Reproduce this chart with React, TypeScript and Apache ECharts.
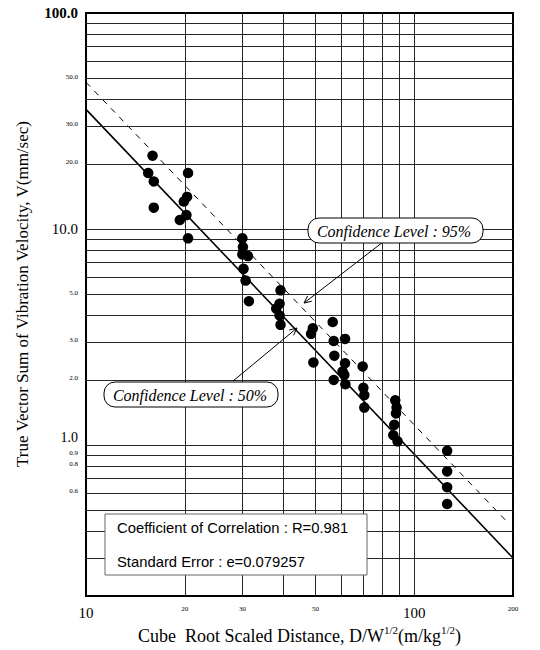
import React, { useEffect, useRef } from "react";
import * as echarts from "echarts";

// Scaled distance D/W^(1/2) (m/kg^(1/2)) and vibration velocity V (mm/sec)
const distances = [
  15.95, 15.47, 16.09, 16.09, 20.46, 20.32, 19.86, 20.23, 19.31, 20.46,
  29.95, 30.07, 29.95, 31.14, 30.2, 30.64, 31.36, 39.15, 38.88, 37.98,
  38.88, 39.15, 49.1, 48.5, 56.45, 56.85, 61.55, 49.3, 57.1, 61.55,
  60.5, 61.25, 56.85, 61.7, 69.65, 70.0, 70.47, 70.47, 87.55, 88.35,
  88.0, 86.95, 86.35, 88.97, 126, 126, 126, 126,
];
const velocities = [
  21.85, 18.16, 16.6, 12.56, 18.16, 14.08, 13.4, 11.6, 11.0, 9.05,
  9.05, 8.25, 7.63, 7.49, 6.54, 5.77, 4.63, 5.2, 4.51, 4.28,
  3.98, 3.6, 3.47, 3.27, 3.71, 3.03, 3.1, 2.41, 2.59, 2.39,
  2.19, 2.11, 2.0, 1.91, 2.31, 1.84, 1.7, 1.49, 1.61, 1.49,
  1.4, 1.24, 1.11, 1.04, 0.94, 0.755, 0.638, 0.533,
];

// Regression lines (50% and 95% confidence)
const line50 = [
  [10, 35.8],
  [200, 0.3],
];
const line95 = [
  [10, 47.8],
  [195, 0.43],
];

// Grid lines and tick labels
const xGridValues = [20, 30, 40, 50, 60, 70, 80, 90, 100];
const yGridValues = [
  0.3, 0.4, 0.5, 0.6, 0.7, 0.8, 0.9, 1, 2, 3, 4, 5, 6, 7, 8, 9, 10, 20, 30, 40,
  50, 60, 70, 80, 90,
];
const xTickLabels = [10, 20, 30, 50, 100, 200];
const xBigLabels = [10, 100];
const yTickLabels = [0.6, 0.8, 0.9, 1, 2, 3, 5, 10, 20, 30, 50, 100];
const yBigLabels = [10, 100];
const yRaisedLabels = [1];

const texts = {
  yTitle: "True Vector Sum of Vibration Velocity, V(mm/sec)",
  conf95: "Confidence Level : 95%",
  conf50: "Confidence Level : 50%",
  corr: "Coefficient of Correlation : R=0.981",
  err: "Standard Error : e=0.079257",
};

const SERIF = '"Liberation Serif", "DejaVu Serif", serif';
const SANS = '"Liberation Sans", Arial, sans-serif';

function arrow(x1: number, y1: number, x2: number, y2: number) {
  const dx = x2 - x1;
  const dy = y2 - y1;
  const len = Math.sqrt(dx * dx + dy * dy);
  const ux = dx / len;
  const uy = dy / len;
  const a = (25 * Math.PI) / 180;
  const L = 8;
  const p1 = [
    x2 - L * (ux * Math.cos(a) - uy * Math.sin(a)),
    y2 - L * (uy * Math.cos(a) + ux * Math.sin(a)),
  ];
  const p2 = [
    x2 - L * (ux * Math.cos(a) + uy * Math.sin(a)),
    y2 - L * (uy * Math.cos(a) - ux * Math.sin(a)),
  ];
  return [
    {
      type: "line",
      z: 100,
      shape: { x1, y1, x2, y2 },
      style: { stroke: "#000", lineWidth: 1 },
    },
    {
      type: "polyline",
      z: 100,
      shape: { points: [p1, [x2, y2], p2] },
      style: { stroke: "#000", lineWidth: 1, fill: null },
    },
  ];
}

const near = (list: number[], r: number) => list.some((b) => Math.abs(b - r) < 1e-6);

export default function App() {
  const ref = useRef<HTMLDivElement>(null);

  useEffect(() => {
    document.body.style.margin = "0";
    if (!ref.current) return;
    const chart = echarts.init(ref.current, undefined, { renderer: "svg" });

    const option: any = {
      animation: false,
      backgroundColor: "#fff",
      grid: {
        left: 86,
        right: 27,
        top: 13,
        bottom: 54,
        show: true,
        borderColor: "#000",
        borderWidth: 2,
        backgroundColor: "transparent",
      },
      xAxis: {
        type: "log",
        logBase: 10,
        min: 10,
        max: 200,
        axisLine: { show: false },
        axisTick: { show: false },
        splitLine: { show: false },
        axisLabel: {
          customValues: xTickLabels,
          margin: 9,
          color: "#000",
          formatter: (v: number) => {
            const r = Math.round(v);
            return near(xBigLabels, r) ? `{b|${r}}` : `{s|${r}}`;
          },
          rich: {
            b: { fontFamily: SERIF, fontSize: 15, color: "#000" },
            s: { fontFamily: SERIF, fontSize: 7, color: "#000", padding: [0, 0, 6, 0] },
          },
        },
        name: "{n|Cube  Root Scaled Distance, D/W}{u|1/2}{n|(m/kg}{u|1/2}{n|)}",
        nameLocation: "middle",
        nameGap: 22,
        nameTextStyle: {
          rich: {
            n: { fontFamily: SERIF, fontSize: 18, color: "#000", lineHeight: 22 },
            u: {
              fontFamily: SERIF,
              fontSize: 11,
              color: "#000",
              verticalAlign: "top",
              lineHeight: 22,
              padding: [0, 0, 8, 0],
            },
          },
        },
      },
      yAxis: {
        type: "log",
        logBase: 10,
        min: 0.2,
        max: 100,
        axisLine: { show: false },
        axisTick: { show: false },
        splitLine: { show: false },
        axisLabel: {
          customValues: yTickLabels,
          margin: 8,
          color: "#000",
          formatter: (v: number) => {
            const r = Math.round(v * 100) / 100;
            const s = r.toFixed(1);
            if (r === 100) return `{h|${s}}`;
            if (near(yBigLabels, r)) return `{b|${s}}`;
            if (near(yRaisedLabels, r)) return `{c|${s}}`;
            return `{s|${s}}`;
          },
          rich: {
            h: { fontFamily: SERIF, fontSize: 15, color: "#000", fontWeight: "bold" },
            b: { fontFamily: SERIF, fontSize: 15, color: "#000" },
            c: { fontFamily: SERIF, fontSize: 14, color: "#000", padding: [0, 0, 16, 0] },
            s: { fontFamily: SERIF, fontSize: 7, color: "#000", padding: [0, 0, 3, 0] },
          },
        },
      },
      series: [
        {
          type: "scatter",
          data: [],
          silent: true,
          markLine: {
            silent: true,
            symbol: ["none", "none"],
            label: { show: false },
            lineStyle: { color: "#262626", width: 1, type: "solid" },
            emphasis: { disabled: true },
            data: [
              ...xGridValues.map((v) => ({ xAxis: v })),
              ...yGridValues.map((v) => ({ yAxis: v })),
            ],
          },
        },
        {
          type: "line",
          data: line95,
          symbol: "none",
          silent: true,
          lineStyle: { color: "#000", width: 1, type: [6, 6] },
        },
        {
          type: "line",
          data: line50,
          symbol: "none",
          silent: true,
          lineStyle: { color: "#000", width: 1.6, type: "solid" },
        },
        {
          type: "scatter",
          data: distances.map((d, i) => [d, velocities[i]]),
          symbol: "circle",
          symbolSize: 10.5,
          itemStyle: { color: "#000", opacity: 1 },
          z: 5,
        },
      ],
      graphic: [
        {
          type: "text",
          z: 100,
          x: 22,
          y: 294,
          rotation: Math.PI / 2,
          style: {
            text: texts.yTitle,
            font: `17px ${SERIF}`,
            fill: "#000",
            align: "center",
            verticalAlign: "middle",
          },
        },
        ...arrow(383, 242, 304, 303),
        ...arrow(233, 381, 297, 328),
        {
          type: "rect",
          z: 100,
          shape: { x: 308, y: 218, width: 175, height: 25, r: 11 },
          style: { fill: "#fff", stroke: "#000", lineWidth: 1 },
        },
        {
          type: "text",
          z: 101,
          x: 394,
          y: 231,
          style: {
            text: texts.conf95,
            font: `italic 16px ${SERIF}`,
            fill: "#000",
            align: "center",
            verticalAlign: "middle",
          },
        },
        {
          type: "rect",
          z: 100,
          shape: { x: 104, y: 382, width: 174, height: 25, r: 11 },
          style: { fill: "#fff", stroke: "#000", lineWidth: 1 },
        },
        {
          type: "text",
          z: 101,
          x: 190,
          y: 395,
          style: {
            text: texts.conf50,
            font: `italic 16px ${SERIF}`,
            fill: "#000",
            align: "center",
            verticalAlign: "middle",
          },
        },
        {
          type: "rect",
          z: 100,
          shape: { x: 105, y: 514, width: 262, height: 61 },
          style: { fill: "#fff", stroke: "#666", lineWidth: 1 },
        },
        {
          type: "text",
          z: 101,
          x: 117,
          y: 528,
          style: {
            text: texts.corr,
            font: `14.8px ${SANS}`,
            fill: "#000",
            align: "left",
            verticalAlign: "middle",
          },
        },
        {
          type: "text",
          z: 101,
          x: 117,
          y: 562,
          style: {
            text: texts.err,
            font: `14.8px ${SANS}`,
            fill: "#000",
            align: "left",
            verticalAlign: "middle",
          },
        },
      ],
    };

    chart.setOption(option);
    return () => chart.dispose();
  }, []);

  return <div ref={ref} style={{ width: 540, height: 650 }} />;
}
